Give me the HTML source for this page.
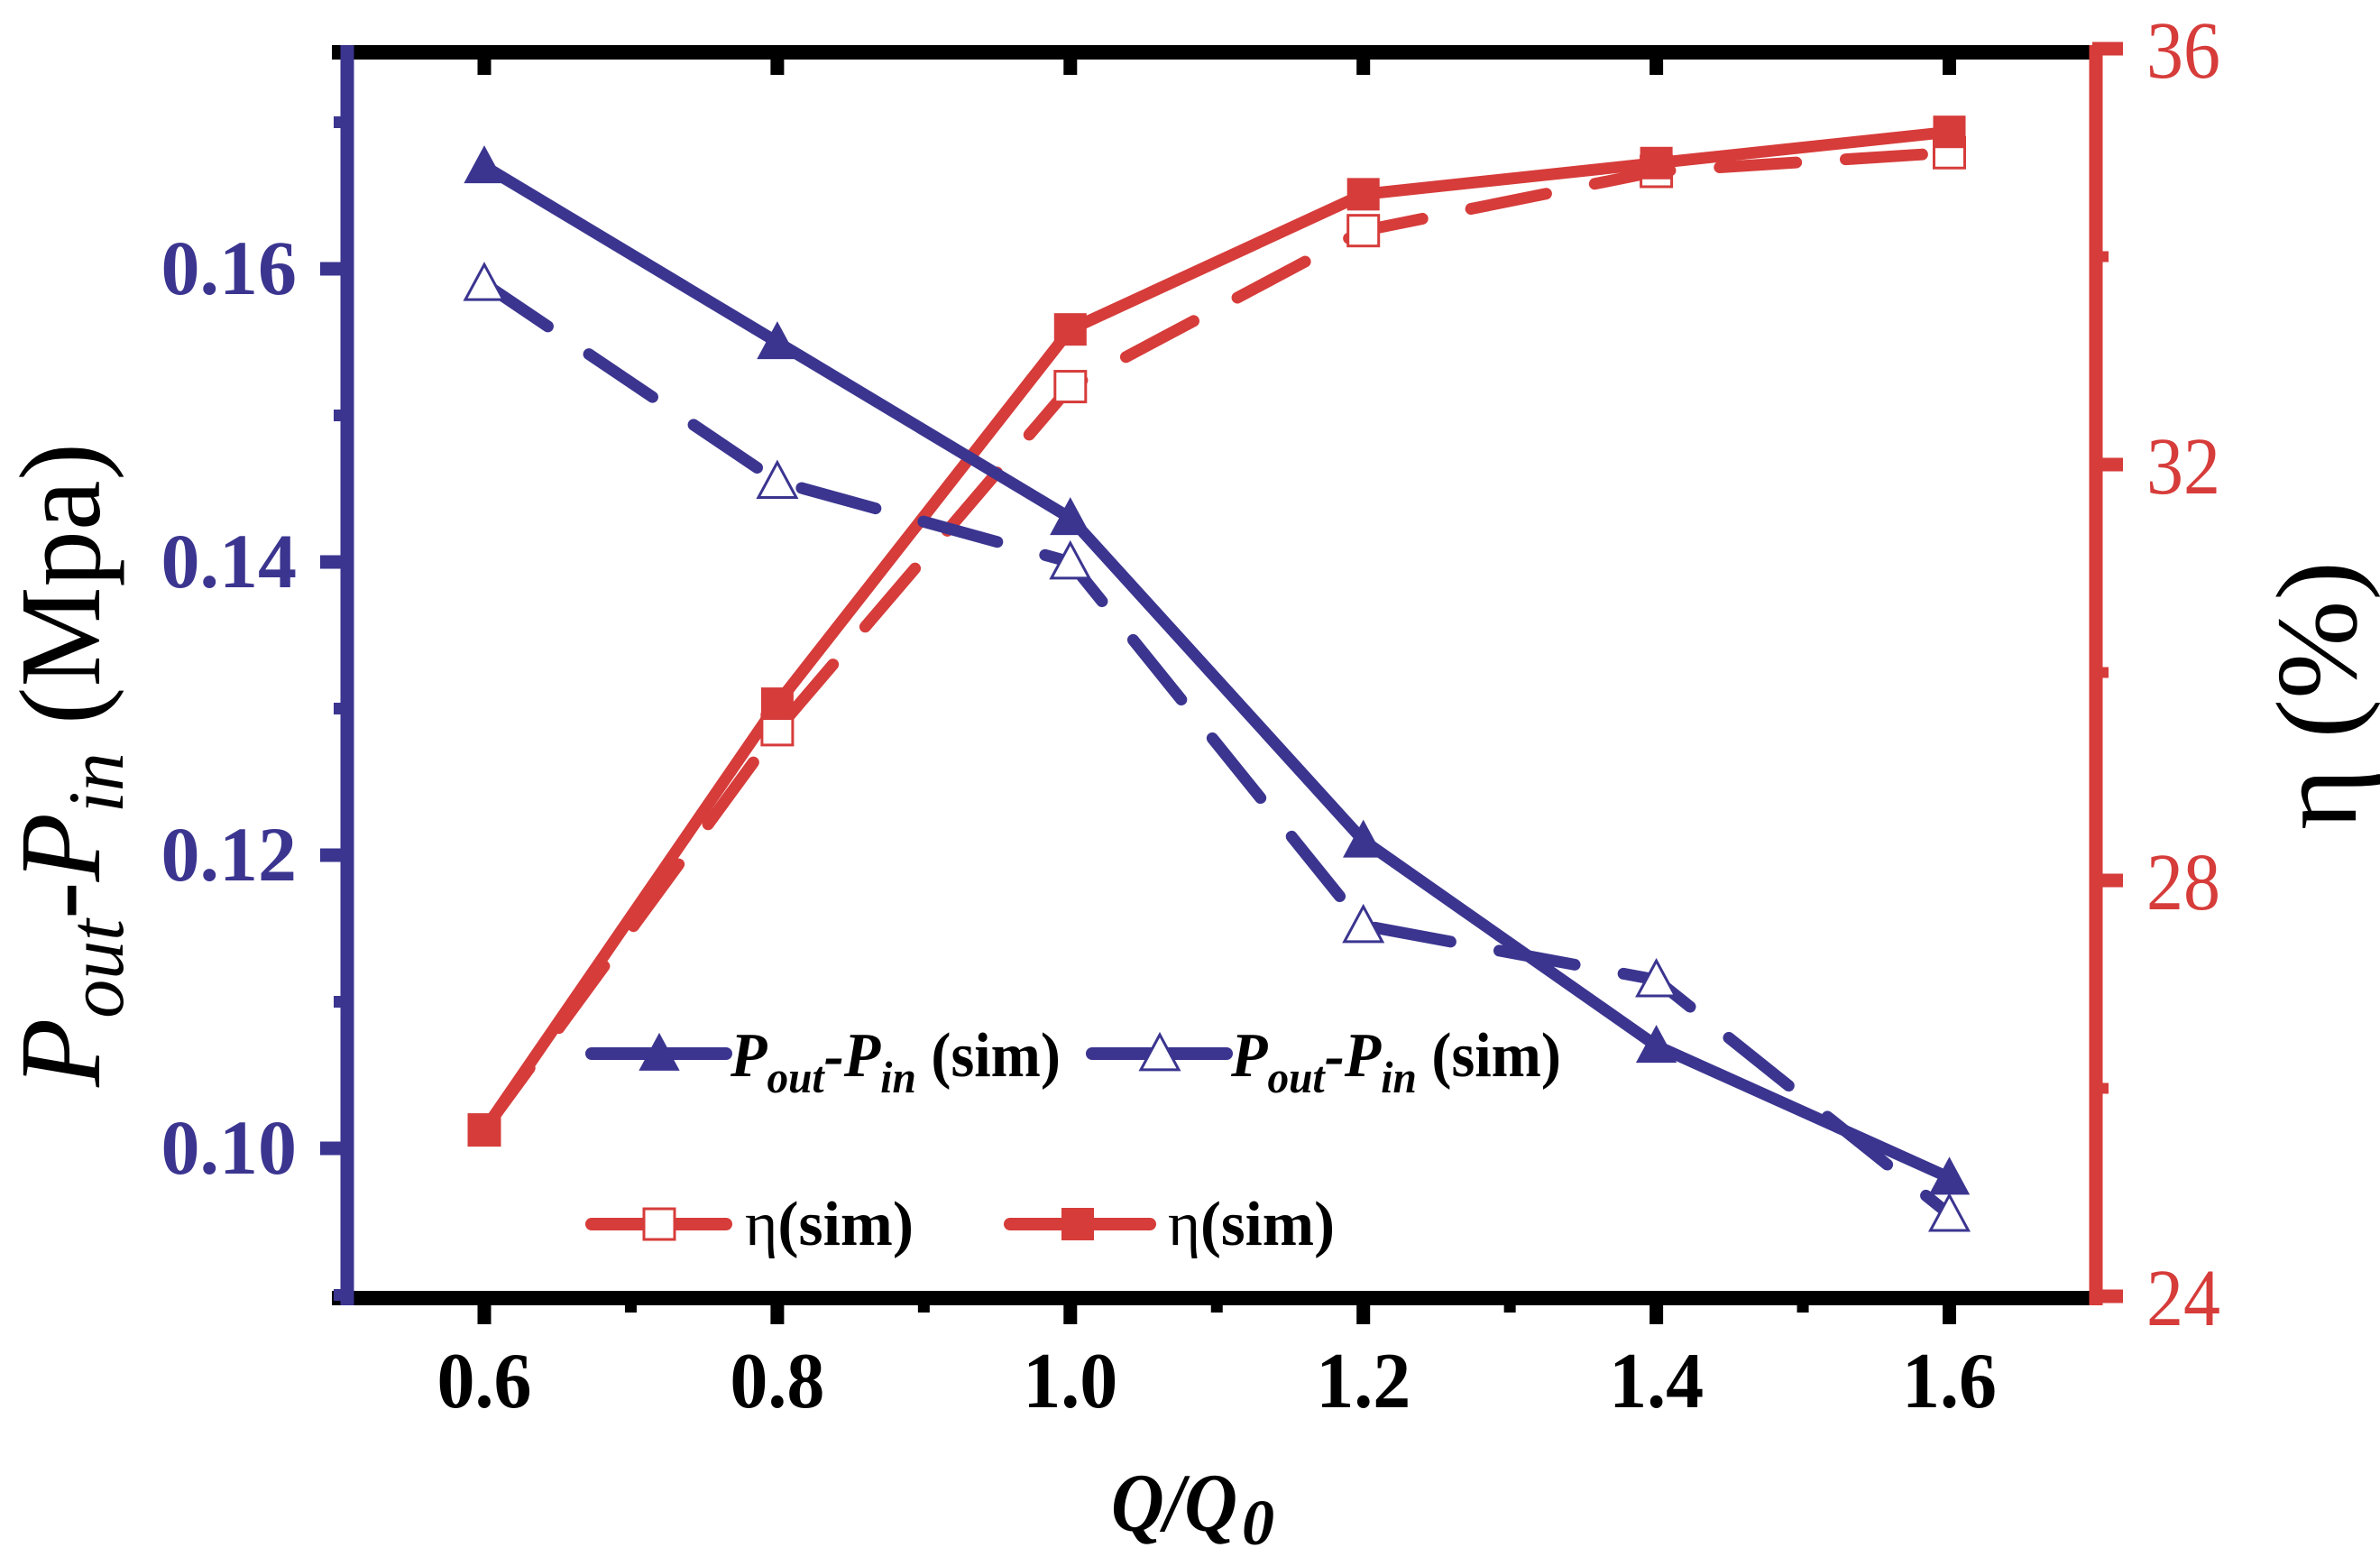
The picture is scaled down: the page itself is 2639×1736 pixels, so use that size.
<!DOCTYPE html>
<html><head><meta charset="utf-8"><style>
html,body{margin:0;padding:0;background:#fff;}
svg{display:block;}
text{font-family:"Liberation Serif",serif;}
</style></head><body>
<svg id="chart" width="2639" height="1736" viewBox="0 0 2639 1736" xmlns="http://www.w3.org/2000/svg">
<rect x="0" y="0" width="2639" height="1736" fill="#fff"/>
<g id="frame">
  <line x1="368" y1="58" x2="2324" y2="58" stroke="#000" stroke-width="16"/>
  <line x1="368" y1="1439" x2="2324" y2="1439" stroke="#000" stroke-width="16"/>
</g>
<g id="xticks"></g>
<g id="series"></g>
<line x1="385" y1="50" x2="385" y2="1447" stroke="#3b3590" stroke-width="15"/>
<line x1="2324" y1="50" x2="2324" y2="1447" stroke="#d63c3a" stroke-width="15"/>
<g id="lticks"></g>
<g id="rticks"></g>

<text transform="translate(110,1205) rotate(-90)" font-size="128" font-style="italic" textLength="714" lengthAdjust="spacingAndGlyphs">P<tspan font-size="88" dy="26">out</tspan><tspan dy="-26">-P</tspan><tspan font-size="88" dy="26">in</tspan><tspan dy="-26" font-style="normal">  (Mpa)</tspan></text>
<text transform="translate(2612,920) rotate(-90)" font-size="128" textLength="298" lengthAdjust="spacingAndGlyphs">η (%)</text>
<text x="1232" y="1697" font-size="92" font-weight="bold" font-style="italic" textLength="140" lengthAdjust="spacingAndGlyphs">Q/Q</text>
<text x="1377" y="1712" font-size="72" font-weight="bold" font-style="italic">0</text>

<g id="legend"></g>
</svg>
<script>
const xCats = [0.6, 0.8, 1.0, 1.2, 1.4, 1.6];
const xTickLabels = ["0.6","0.8","1.0","1.2","1.4","1.6"];
const xMinorTicks = [0.7, 0.9, 1.1, 1.3, 1.5];
const dpSolid = [0.167, 0.155, 0.143, 0.121, 0.107, 0.098];
const dpOpen = [0.159, 0.1455, 0.140, 0.1152, 0.1115, 0.0955];
const etaSolid = [25.6, 29.7, 33.3, 34.6, 34.9, 35.2];
const etaOpen = [25.6, 29.45, 32.75, 34.25, 34.82, 35.0];
const leftTicks = [0.10, 0.12, 0.14, 0.16];
const leftTickLabels = ["0.10","0.12","0.14","0.16"];
const leftMinor = [0.09, 0.11, 0.13, 0.15, 0.17];
const rightTicks = [24, 28, 32, 36];
const rightTickLabels = ["24","28","32","36"];
const rightMinor = [26, 30, 34];

const BLUE="#3b3590", RED="#d63c3a", NS="http://www.w3.org/2000/svg";
function xs(v){return 537+(v-0.6)*1624.5;}
function yl(v){return 298+(0.16-v)*16250;}
function yr(v){return 54+(36-v)*115.25;}
function mk(tag,attrs,parent){const e=document.createElementNS(NS,tag);for(const k in attrs)e.setAttribute(k,attrs[k]);parent.appendChild(e);return e;}

const gx=document.getElementById('xticks');
xCats.forEach((v,i)=>{
  const t=mk('line',{x1:xs(v),y1:1431,x2:xs(v),y2:1468,stroke:'#000','stroke-width':15},gx);
  
  
  const tt=mk('line',{x1:xs(v),y1:66,x2:xs(v),y2:83,stroke:'#000','stroke-width':15},gx);
  
  
  const l=mk('text',{x:xs(v),y:1560,'font-size':88,'font-weight':'bold','text-anchor':'middle',textLength:105,lengthAdjust:'spacingAndGlyphs'},gx);
  l.textContent=xTickLabels[i];
  
  
});
xMinorTicks.forEach(v=>{
  const t=mk('line',{x1:xs(v),y1:1431,x2:xs(v),y2:1455,stroke:'#000','stroke-width':13},gx);
  
  
});

const gl=document.getElementById('lticks');
leftTicks.forEach((v,i)=>{
  const t=mk('line',{x1:355,y1:yl(v),x2:390,y2:yl(v),stroke:BLUE,'stroke-width':15},gl);
  
  
  const l=mk('text',{x:329,y:yl(v)+28,'font-size':86,'font-weight':'bold','text-anchor':'end',fill:BLUE},gl);
  l.textContent=leftTickLabels[i];
  
  
});
leftMinor.forEach(v=>{
  const t=mk('line',{x1:370,y1:yl(v),x2:390,y2:yl(v),stroke:BLUE,'stroke-width':13},gl);
  
  
});

const gr=document.getElementById('rticks');
rightTicks.forEach((v,i)=>{
  const t=mk('line',{x1:2320,y1:yr(v),x2:2354,y2:yr(v),stroke:RED,'stroke-width':15},gr);
  
  
  const l=mk('text',{x:2380,y:yr(v)+32,'font-size':90,fill:RED,textLength:82,lengthAdjust:'spacingAndGlyphs'},gr);
  l.textContent=rightTickLabels[i];
  
  
});
rightMinor.forEach(v=>{
  const t=mk('line',{x1:2320,y1:yr(v),x2:2338,y2:yr(v),stroke:RED,'stroke-width':12},gr);
  
  
});

function tri(cx,cy,filled,color,parent,name){
  const s=21;
  const p=mk('polygon',{points:`${cx},${cy-s} ${cx-s},${cy+s*0.85} ${cx+s},${cy+s*0.85}`,fill:filled?color:'#fff',stroke:color,'stroke-width':filled?2:3},parent);
  
  
}
function sq(cx,cy,filled,color,parent,name){
  const s=17;
  const r=mk('rect',{x:cx-s,y:cy-s,width:2*s,height:2*s,fill:filled?color:'#fff',stroke:color,'stroke-width':filled?2:3},parent);
  
  
}
function pathD(vals,yf){return vals.map((v,i)=>(i?'L':'M')+xs(xCats[i])+','+yf(v)).join(' ');}

const gs=document.getElementById('series');
const lines=[
  {vals:etaOpen,yf:yr,color:RED,dash:true,name:'eta-open-line'},
  {vals:etaSolid,yf:yr,color:RED,dash:false,name:'eta-solid-line'},
  {vals:dpOpen,yf:yl,color:BLUE,dash:true,name:'dp-open-line'},
  {vals:dpSolid,yf:yl,color:BLUE,dash:false,name:'dp-solid-line'}
];
lines.forEach(s=>{
  const a={d:pathD(s.vals,s.yf),fill:'none',stroke:s.color,'stroke-width':13,'stroke-linecap':'round','stroke-linejoin':'round'};
  if(s.dash)a['stroke-dasharray']='85 55';
  const p=mk('path',a,gs);
  
  
});
etaOpen.forEach((v,i)=>sq(xs(xCats[i]),yr(v),false,RED,gs,'eta-open-marker'));
etaSolid.forEach((v,i)=>sq(xs(xCats[i]),yr(v),true,RED,gs,'eta-solid-marker'));
dpOpen.forEach((v,i)=>tri(xs(xCats[i]),yl(v),false,BLUE,gs,'dp-open-marker'));
dpSolid.forEach((v,i)=>tri(xs(xCats[i]),yl(v),true,BLUE,gs,'dp-solid-marker'));

const lg=document.getElementById('legend');
function legLine(x1,x2,y,color,name){
  const l=mk('line',{x1:x1,y1:y,x2:x2,y2:y,stroke:color,'stroke-width':14,'stroke-linecap':'round'},lg);
  
  
}
legLine(656,805,1168,BLUE,'legend-line-dp-solid');
tri(731,1168,true,BLUE,lg,'legend-marker-dp-solid');
legLine(1211,1360,1168,BLUE,'legend-line-dp-open');
tri(1286,1168,false,BLUE,lg,'legend-marker-dp-open');
legLine(656,805,1357,RED,'legend-line-eta-open');
sq(731,1357,false,RED,lg,'legend-marker-eta-open');
legLine(1120,1275,1357,RED,'legend-line-eta-solid');
sq(1195,1357,true,RED,lg,'legend-marker-eta-solid');

function legText(x,y,html,len,name){
  const t=mk('text',{x:x,y:y,'font-size':70,'font-weight':'bold',textLength:len,lengthAdjust:'spacingAndGlyphs'},lg);
  t.innerHTML=html;
  
  
}
const dpLabel='<tspan font-style="italic">P</tspan><tspan font-style="italic" font-size="50" dy="18">out</tspan><tspan font-style="italic" dy="-18">-P</tspan><tspan font-style="italic" font-size="50" dy="18">in</tspan><tspan dy="-18"> (sim)</tspan>';
legText(810,1193,dpLabel,366,'legend-label-dp-solid');
legText(1365,1193,dpLabel,366,'legend-label-dp-open');
const t3=mk('text',{x:826,y:1380,'font-size':70,textLength:187,lengthAdjust:'spacingAndGlyphs'},lg);
t3.innerHTML='η<tspan font-weight="bold">(sim)</tspan>';


const t4=mk('text',{x:1295,y:1380,'font-size':70,textLength:185,lengthAdjust:'spacingAndGlyphs'},lg);
t4.innerHTML='η<tspan font-weight="bold">(sim)</tspan>';


</script>
</body></html>
